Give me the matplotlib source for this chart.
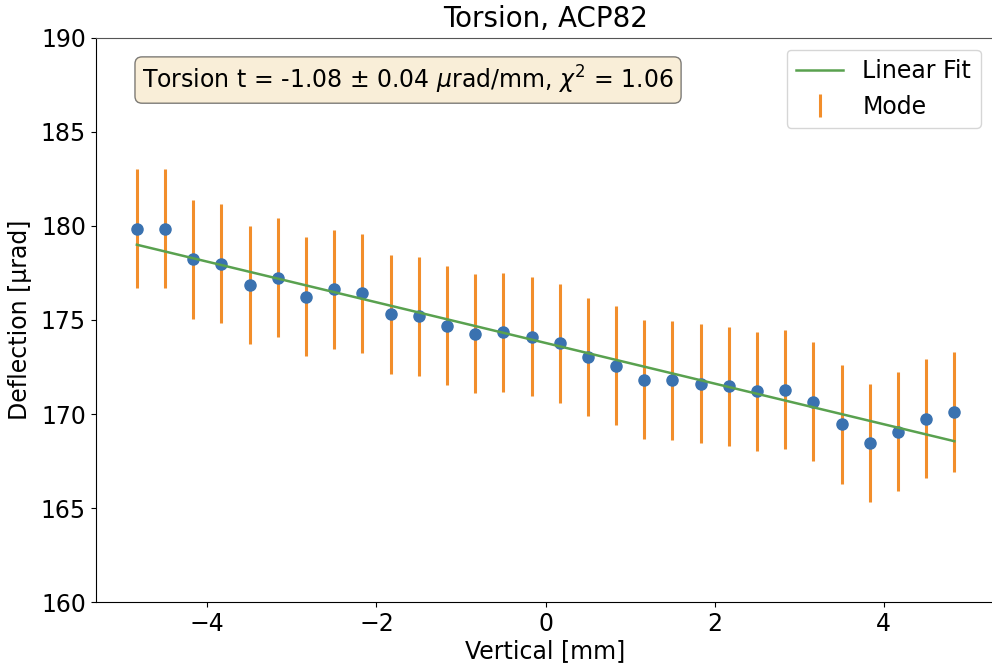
import matplotlib
matplotlib.use("Agg")
import matplotlib.pyplot as plt
import numpy as np

# vertical position of each measurement [mm]
vertical = np.linspace(-29 / 6, 29 / 6, 30)

# deflection mode values [urad] and their errors
deflection = [179.86, 179.86, 178.23, 177.99, 176.86, 177.25, 176.24, 176.63,
              176.42, 175.30, 175.20, 174.70, 174.27, 174.34, 174.10, 173.76,
              173.03, 172.57, 171.83, 171.79, 171.61, 171.49, 171.21, 171.29,
              170.65, 169.47, 168.47, 169.06, 169.75, 170.11]
errors = [3.15, 3.15, 3.17, 3.16, 3.15, 3.16, 3.16, 3.16,
          3.16, 3.16, 3.16, 3.17, 3.16, 3.16, 3.16, 3.16,
          3.15, 3.16, 3.16, 3.16, 3.16, 3.16, 3.16, 3.17,
          3.16, 3.16, 3.15, 3.16, 3.16, 3.17]

# linear fit result
fit_slope = -1.08
fit_intercept = 173.78

fig = plt.figure(figsize=(9.92, 6.70), dpi=100)
ax = fig.add_axes([95.7 / 992, 1 - 602.3 / 670, 899.8 / 992, 564.6 / 670])

x = np.array(vertical)
ax.errorbar(x, deflection, yerr=errors, fmt="none", ecolor="#f28e2b",
            elinewidth=2.2, label="Mode", zorder=2)
ax.plot(x, deflection, "o", color="#3a72b0", ms=8, zorder=3)
ax.plot(x, fit_slope * x + fit_intercept, color="#59a14f", lw=1.8,
        label="Linear Fit", zorder=4)

ax.set_ylim(160, 190)
ax.set_xlim(-5.32, 5.32)
ax.spines["top"].set_color("#555555")

ax.tick_params(labelsize=17)
ax.set_xlabel("Vertical [mm]", fontsize=17, labelpad=2)
ax.set_ylabel("Deflection [μrad]", fontsize=17, labelpad=6)
ax.set_title("Torsion, ACP82", fontsize=20, pad=8)

ax.text(0.0515, 0.925, r"Torsion t = -1.08 $\pm$ 0.04 $\mu$rad/mm, $\chi^2$ = 1.06",
        transform=ax.transAxes, fontsize=17, va="center",
        bbox=dict(boxstyle="round", facecolor="wheat", alpha=0.5))

ax.legend(loc="upper right", fontsize=17, bbox_to_anchor=(0.9965, 1.0))

fig.savefig("out.png", dpi=100)
